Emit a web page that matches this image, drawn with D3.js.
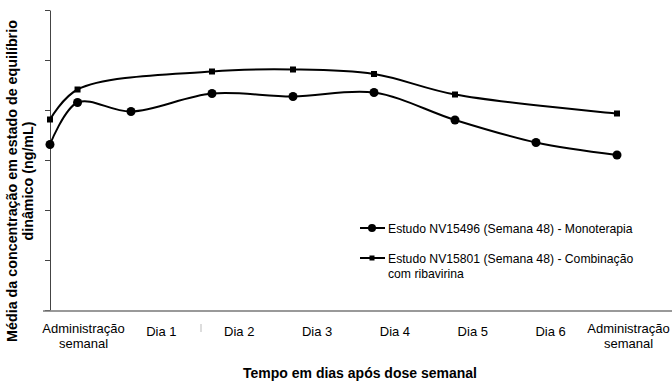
<!DOCTYPE html>
<html lang="pt">
<head>
    <meta charset="UTF-8">
    <title>Concentração em estado de equilíbrio</title>
    <script src="https://d3js.org/d3.v7.min.js"></script>
    <style>
        body { margin: 0; background: #fff; }
        svg { display: block; font-family: "Liberation Sans", Arial, sans-serif; }
    </style>
</head>
<body>
<svg width="672" height="383"></svg>
<script>
    // categories on the x axis
    let categories = ["Administração\nsemanal", "Dia 1", "Dia 2", "Dia 3", "Dia 4", "Dia 5", "Dia 6", "Administração\nsemanal"]

    // time in days and values (units of one y tick)
    let monoDays = [0, 0.34, 1, 2, 3, 4, 5, 6, 7]
    let monoValues = [3.31, 4.15, 3.97, 4.33, 4.27, 4.35, 3.80, 3.35, 3.10]
    let comboDays = [0, 0.34, 2, 3, 4, 5, 7]
    let comboValues = [3.81, 4.41, 4.77, 4.81, 4.72, 4.31, 3.93]

    let seriesNames = ["Estudo NV15496 (Semana 48) - Monoterapia",
                       "Estudo NV15801 (Semana 48) - Combinação\ncom ribavirina"]

    let svg = d3.select('svg')

    let x = d3.scaleLinear().domain([0, 7]).range([50, 617])
    let y = d3.scaleLinear().domain([0, 6]).range([310, 10])
    let labelX = d3.scalePoint().domain(d3.range(categories.length)).range([83, 628])

    // y axis (no labels)
    let yAxis = svg.append("g")
        .attr("transform", "translate(50,0)")
        .call(d3.axisLeft(y).tickValues(d3.range(0, 7)).tickSize(5).tickSizeOuter(0).tickFormat(""))
    yAxis.selectAll("path,line").attr("stroke", "#444").attr("stroke-width", 1)

    // x axis line
    svg.append("line")
        .attr("x1", 43).attr("x2", 672)
        .attr("y1", 311).attr("y2", 311)
        .attr("stroke", "#777").attr("stroke-width", 1.5)

    // x labels
    let xAxis = svg.append("g")
        .attr("transform", "translate(0,311)")
        .call(d3.axisBottom(labelX).tickSize(0).tickFormat(""))
    xAxis.select(".domain").remove()
    xAxis.selectAll(".tick").append("text")
        .attr("fill", "#000")
        .attr("font-size", "13px")
        .attr("text-anchor", "middle")
        .each(function (d) {
            let lines = categories[d].split("\n")
            let t = d3.select(this)
            lines.forEach((s, i) => {
                t.append("tspan").attr("x", 0).attr("y", lines.length > 1 ? 22 + i * 15 : 25).text(s)
            })
        })

    // stray mark near Dia 2
    svg.append("line")
        .attr("x1", 201).attr("x2", 201).attr("y1", 324).attr("y2", 332)
        .attr("stroke", "#bbb").attr("stroke-width", 1)

    let line = d3.line()
        .x(d => x(d[0]))
        .y(d => y(d[1]))
        .curve(d3.curveCatmullRom.alpha(0.5))

    let mono = d3.zip(monoDays, monoValues)
    let combo = d3.zip(comboDays, comboValues)

    svg.append("path").datum(combo)
        .attr("d", line).attr("fill", "none")
        .attr("stroke", "#000").attr("stroke-width", 2)
    svg.append("path").datum(mono)
        .attr("d", line).attr("fill", "none")
        .attr("stroke", "#000").attr("stroke-width", 2)

    svg.append("g").selectAll("rect")
        .data(combo).enter().append("rect")
        .attr("x", d => x(d[0]) - 3).attr("y", d => y(d[1]) - 3)
        .attr("width", 6).attr("height", 6).attr("fill", "#000")

    svg.append("g").selectAll("circle")
        .data(mono).enter().append("circle")
        .attr("cx", d => x(d[0])).attr("cy", d => y(d[1]))
        .attr("r", 4.5).attr("fill", "#000")

    // legend
    let legend = svg.append("g").attr("font-size", "12.2px")
    let legendY = [228, 258]
    seriesNames.forEach((name, i) => {
        legend.append("line")
            .attr("x1", 360).attr("x2", 385)
            .attr("y1", legendY[i]).attr("y2", legendY[i])
            .attr("stroke", "#000").attr("stroke-width", 2)
        if (i == 0) {
            legend.append("circle").attr("cx", 372).attr("cy", legendY[i]).attr("r", 4)
        } else {
            legend.append("rect").attr("x", 369.5).attr("y", legendY[i] - 2.5).attr("width", 5).attr("height", 5)
        }
        let t = legend.append("text").attr("fill", "#000")
        name.split("\n").forEach((s, j) => {
            t.append("tspan").attr("x", 388).attr("y", legendY[i] + 4.5 + j * 15).text(s)
        })
    })

    // axis titles
    svg.append("text")
        .attr("x", 360).attr("y", 378)
        .attr("text-anchor", "middle")
        .attr("font-weight", "bold").attr("font-size", "14px")
        .text("Tempo em dias após dose semanal")

    let yTitle = svg.append("text")
        .attr("transform", "translate(0,181) rotate(-90)")
        .attr("text-anchor", "middle")
        .attr("font-weight", "bold").attr("font-size", "14.3px")
    yTitle.append("tspan").attr("x", 0).attr("y", 17).text("Média da concentração em estado de equilíbrio")
    yTitle.append("tspan").attr("x", 0).attr("y", 33).text("dinâmico (ng/mL)")
</script>
</body>
</html>
